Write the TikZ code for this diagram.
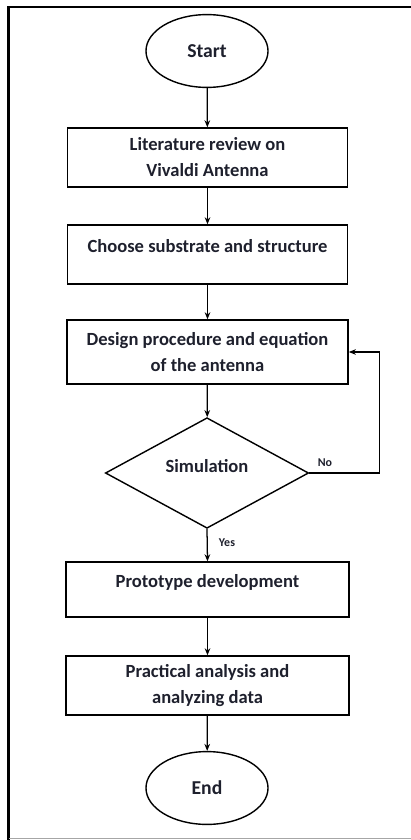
\documentclass[tikz,border=0pt]{standalone}
\usepackage{fontspec}
\setmainfont{Carlito}
\usetikzlibrary{positioning,arrows.meta,shapes.geometric}
\definecolor{ink}{RGB}{30,32,45}
\tikzset{
  terminal/.style={draw, ellipse, inner sep=0pt, minimum width=3.05cm, minimum height=1.82cm,
    font=\bfseries\fontsize{14}{18}\selectfont},
  process/.style={draw, rectangle, align=center, inner sep=0pt, minimum width=7.0cm, minimum height=1.475cm},
  decision/.style={draw, diamond, align=center, inner sep=0pt, minimum width=5.08cm, minimum height=2.5cm},
  flow/.style={->, line width=0.9pt},
  answer/.style={font=\bfseries\fontsize{8.5}{9}\selectfont}
}

\begin{document}
\begin{tikzpicture}[x=0.025cm, y=-0.025cm, >={Stealth[length=5pt,width=4pt]},
    line width=1pt, text=ink,
    font=\bfseries\fontsize{13.2}{18.5}\selectfont]
    \useasboundingbox (0,0) rectangle (410,840);
    % page frame
    \draw[line width=1.6pt] (415,7) -- (8.5,7) -- (8.5,845);
    \draw[line width=0.4pt, black!35] (8.5,838.5) -- (415,838.5);

    % terminals
    \node[terminal] (start) at (207,51) {Start};
    \node[terminal] (end) at (207,788) {End};

    % process steps
    \node[process] (review) at (207.5,157.5) {Literature review on\\Vivaldi Antenna};
    \node[process] (substrate) at (207.5,254.5) {Choose substrate and structure\\[-7pt]\mbox{}};
    \node[process, minimum width=7.03cm, minimum height=1.6cm] (design) at (207.5,352) {Design procedure and equation\\of the antenna};
    \node[decision] (sim) at (207,473) {Simulation\\[-8pt]\mbox{}};
    \node[process, minimum width=7.08cm, minimum height=1.375cm] (proto) at (207.5,589.5) {Prototype development\\[-7pt]\mbox{}};
    \node[process, minimum width=7.08cm] (practical) at (207.5,685.5) {Practical analysis and\\analyzing data};

    % connectors
    \draw[flow] (start) -- (review);
    \draw[flow] (review) -- (substrate);
    \draw[flow] (substrate) -- (design);
    \draw[flow] (design) -- (sim);
    \draw[flow] (sim.south) -- (proto.north);
    \draw[flow] (proto) -- (practical);
    \draw[flow] (practical) -- (end);
    \draw[flow] (sim.east) -- ++(70,0) |- (design.east);

    % answers
    \node[answer] (no) at (325,463) {No};
    \node[answer] (yes) at (227,543) {Yes};
\end{tikzpicture}
\end{document}
